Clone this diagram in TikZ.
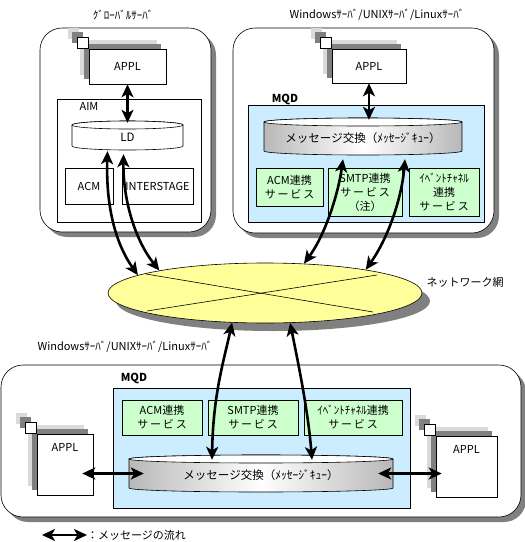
\documentclass[tikz,border=0pt]{standalone}
\usepackage{fontspec}
\setmainfont{Noto Sans CJK JP}
\usetikzlibrary{arrows.meta,calc,positioning,shapes.geometric,shadows}
\definecolor{mqInk}{HTML}{000000}
\definecolor{mqShadow}{HTML}{808080}
\definecolor{mqShadowSoft}{HTML}{DADADA}
\definecolor{mqBlue}{HTML}{CCECFF}
\definecolor{mqGreen}{HTML}{CCFFCC}
\definecolor{mqYellow}{HTML}{FFFF99}
\definecolor{mqGrey}{HTML}{B8B8B8}
\tikzset{
  mq server/.style={
    draw=mqInk, fill=white, line width=.6pt, rounded corners=22pt,
    drop shadow={shadow xshift=5pt, shadow yshift=-5pt, fill=mqShadow, opacity=1, draw=none}
  },
  mq appl/.style={
    draw=mqInk, fill=white, line width=.6pt, inner sep=0pt,
    drop shadow={shadow xshift=-9pt, shadow yshift=9pt, fill=mqShadowSoft, opacity=1, draw=none},
    drop shadow={shadow xshift=-5pt, shadow yshift=5pt, fill=mqShadow, opacity=1, draw=none}
  },
  mq tab/.style={mq appl, minimum size=11.5pt},
  mq frame/.style={draw=mqInk, fill=white, line width=.6pt, inner sep=0pt},
  mq mqd/.style={draw=mqInk, fill=mqBlue, line width=.6pt, inner sep=0pt},
  mq service/.style={draw=mqInk, fill=mqGreen, line width=.6pt, inner sep=0pt,
    align=center, font=\fontsize{11}{14}\selectfont},
  mq cyl plain/.style={draw=mqInk, fill=white, line width=.6pt},
  mq cyl shade/.style={draw=mqInk, line width=.6pt,
    left color=mqGrey, right color=mqGrey, middle color=white},
  mq cyl top/.style={draw=mqInk, fill=white, line width=.6pt},
  mq cyl text/.style={inner sep=0pt, font=\fontsize{11.5}{13}\selectfont},
  mq net/.style={
    ellipse, draw=mqInk, fill=mqYellow, line width=.6pt, inner sep=0pt,
    drop shadow={shadow xshift=8pt, shadow yshift=-8pt, fill=mqShadow, opacity=1, draw=none}
  },
  mq cross/.style={draw=mqInk, line width=.6pt},
  mq caption/.style={inner sep=0pt},
  mq bold/.style={inner sep=0pt, font=\fontsize{11}{13}\selectfont\bfseries},
  mq flow/.style={
    draw=mqInk, line width=2.6pt,
    {Stealth[length=13pt,width=12pt,inset=3.5pt]}-{Stealth[length=13pt,width=12pt,inset=3.5pt]}
  }
}
% cylinder: name, left x, right x, top y, bottom y, style, text
\newcommand{\mqcyl}[7]{%
  \path[#6] (#2,#4) -- (#2,#5)
    arc[start angle=180, end angle=0, x radius={(#3-#2)/2}, y radius=4]
    -- (#3,#4)
    arc[start angle=0, end angle=-180, x radius={(#3-#2)/2}, y radius=4] -- cycle;
  \path[mq cyl top] ({(#2+#3)/2},#4) ellipse[x radius={(#3-#2)/2}, y radius=4];
  \node[mq cyl text, minimum width={(#3-#2)*1pt}, minimum height={(#5-#4+8)*1pt}]
    (#1) at ({(#2+#3)/2},{(#4+#5)/2+2}) {#7};
}

\begin{document}
\begin{tikzpicture}[x=1pt,y=-1pt,font=\fontsize{11}{13}\selectfont]
  \useasboundingbox[fill=white] (0,0) rectangle (525,542);

  % servers
  \node[mq server, minimum width=171pt, minimum height=204pt] (srvG) at (125.5,130) {};
  \node[mq server, minimum width=261pt, minimum height=205pt] (srvW) at (363.5,130.5) {};
  \node[mq server, minimum width=520pt, minimum height=152pt] (srvB) at (261,441) {};
  \node[mq caption] (srvGlbl) at (123,15) {ｸﾞﾛｰﾊﾞﾙｻｰﾊﾞ};
  \node[mq caption] (srvWlbl) at (377,15) {Windowsｻｰﾊﾞ/UNIXｻｰﾊﾞ/Linuxｻｰﾊﾞ};
  \node[mq caption] (srvBlbl) at (125,347) {Windowsｻｰﾊﾞ/UNIXｻｰﾊﾞ/Linuxｻｰﾊﾞ};

  % global server
  \node[mq frame, minimum width=144pt, minimum height=123pt] (aim) at (129,160.5) {};
  \node[mq caption] (aimlbl) at (89,106) {AIM};
  \mqcyl{ldA}{72}{183}{125}{146}{mq cyl plain}{LD}
  \node[mq frame, minimum width=48pt, minimum height=36pt] (acmG) at (89,186) {ACM};
  \node[mq frame, minimum width=71pt, minimum height=36pt] (isG) at (157.5,186) {INTERSTAGE};
  \node[mq appl, minimum width=77pt, minimum height=35pt] (applA) at (127.5,66.5) {APPL};
  \node[mq tab, anchor=south east] (tabA) at (applA.north west) {};

  % windows / unix / linux server (top)
  \node[mq mqd, minimum width=236pt, minimum height=117pt] (mqdW) at (366,163.5) {};
  \node[mq bold] (mqdWlbl) at (285,99) {MQD};
  \mqcyl{msgA}{264}{462}{122}{151}{mq cyl shade}{メッセージ交換（ﾒｯｾｰｼﾞｷｭｰ）}
  \node[mq service, minimum width=67pt, minimum height=38pt] (acmW) at (289.5,187) {ACM連携\\サ\,ー\,ビ\,ス};
  \node[mq service, minimum width=74pt, minimum height=48pt] (smtpW) at (365,192) {SMTP連携\\サ\,ー\,ビ\,ス\\（注）};
  \node[mq service, minimum width=70pt, minimum height=48pt] (evtW) at (444,192) {ｲﾍﾞﾝﾄﾁｬﾈﾙ\\連携\\サ\,ー\,ビ\,ス};
  \node[mq appl, minimum width=74pt, minimum height=34pt] (applB) at (369,66) {APPL};
  \node[mq tab, anchor=south east] (tabB) at (applB.north west) {};

  % network
  \node[mq net, minimum width=314pt, minimum height=60pt] (net) at (265,293) {};
  \draw[mq cross] (146,274) -- (373,312);
  \draw[mq cross] (147,311) -- (377,275);
  \node[mq caption] (netlbl) at (465,282) {ネットワーク網};

  % windows / unix / linux server (bottom)
  \node[mq mqd, minimum width=297pt, minimum height=120pt] (mqdB) at (261.5,448) {};
  \node[mq bold] (mqdBlbl) at (134,378) {MQD};
  \node[mq service, minimum width=80pt, minimum height=35pt] (acmB) at (162,417.5) {ACM連携\\サ\,ー\,ビ\,ス};
  \node[mq service, minimum width=90pt, minimum height=35pt] (smtpB) at (253,417.5) {SMTP連携\\サ\,ー\,ビ\,ス};
  \node[mq service, minimum width=98pt, minimum height=35pt] (evtB) at (353,417.5) {ｲﾍﾞﾝﾄﾁｬﾈﾙ連携\\サ\,ー\,ビ\,ス};
  \mqcyl{msgB}{129}{393}{459}{488}{mq cyl shade}{メッセージ交換（ﾒｯｾｰｼﾞｷｭｰ）}
  \node[mq appl, minimum width=56pt, text height=17pt, text depth=44pt] (applC) at (65,464.5) {APPL};
  \node[mq tab, anchor=south east] (tabC) at (applC.north west) {};
  \node[mq appl, minimum width=61pt, text height=17pt, text depth=44pt] (applD) at (466.5,466.5) {APPL};
  \node[mq tab, anchor=south east] (tabD) at (applD.north west) {};

  % message flows
  \draw[mq flow] (applA.south) -- (applA.south |- ldA.north);
  \draw[mq flow] (applB.south) -- (applB.south |- msgA.north);
  \draw[mq flow] ($(ldA.south)+(-20,-1)$) .. controls (106,200) and (113,240) .. (net.172);
  \draw[mq flow] ($(ldA.south)+(-4,2)$) .. controls (123,200) and (135,240) .. (net.168);
  \draw[mq flow] ($(msgA.south)+(-20,2)$) .. controls (338,195) and (325,235) .. (net.37);
  \draw[mq flow] ($(msgA.south)+(42,2)$) .. controls (402,195) and (390,235) .. (net.13);
  \draw[mq flow] (net.222) .. controls (224,360) and (213,395) .. ($(msgB.north)+(-49,3)$);
  \draw[mq flow] (net.310) .. controls (298,362) and (308,410) .. ($(msgB.north)+(51,3)$);
  \draw[mq flow] ($(applC.east |- msgB.west)+(-11,-2)$) -- ($(msgB.west)+(15,-2)$);
  \draw[mq flow] ($(msgB.east)+(-15,-2)$) -- ($(applD.west |- msgB.east)+(6,-2)$);

  % legend
  \coordinate (legend) at (42,535);
  \node[mq caption, anchor=west] (legendtxt) at (87,535) {：メッセージの流れ};
  \draw[mq flow] (legend) -- (legendtxt.west);
\end{tikzpicture}
\end{document}
